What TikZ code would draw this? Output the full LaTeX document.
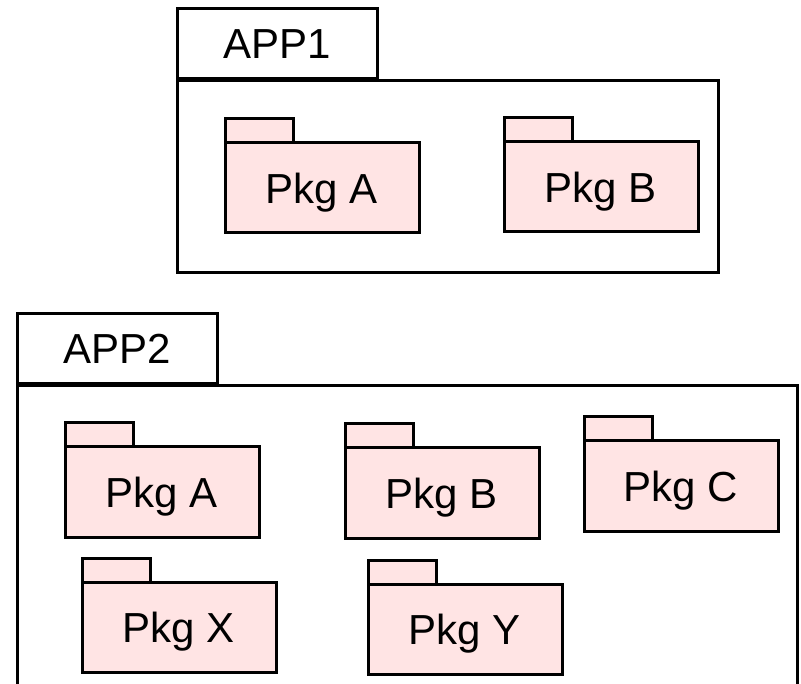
\documentclass[tikz,border=0pt]{standalone}
\usepackage{fontspec}
\setmainfont{Liberation Sans}
\usetikzlibrary{positioning}

\definecolor{pkgpink}{RGB}{255,228,228}

\tikzset{
  appbody/.style={draw, line width=3pt, fill=white, outer sep=0pt, inner sep=0pt, anchor=north west},
  apptab/.style={draw, line width=3pt, fill=white, outer sep=0pt, inner sep=0pt,
    minimum height=70pt, font=\fontsize{42}{50}\selectfont},
  pkgbody/.style={draw, line width=3pt, fill=pkgpink, outer sep=0pt, inner sep=0pt, anchor=north west,
    minimum width=194pt, minimum height=90pt, text depth=0pt, font=\fontsize{42}{50}\selectfont},
  pkgtab/.style={draw, line width=3pt, fill=pkgpink, outer sep=0pt, inner sep=0pt,
    minimum width=68pt, minimum height=24pt},
}

\begin{document}
\begin{tikzpicture}[x=1pt, y=-1pt]
  % page frame, the lower edge of APP2 runs off it
  \clip (0,0) rectangle (801,684);

  % APP1 container
  \node[appbody, minimum width=541pt, minimum height=192pt] (app1) at (177,81) {};
  \node[apptab, minimum width=200pt, above right=2pt and 0pt of app1.north west] (app1tab) {APP1};

  \node[pkgbody] (app1a) at (225,143) {Pkg A};
  \node[pkgtab, above right=0pt and 0pt of app1a.north west] (app1atab) {};
  \node[pkgbody] (app1b) at (504,142) {Pkg B};
  \node[pkgtab, above right=0pt and 0pt of app1b.north west] (app1btab) {};

  % APP2 container
  \node[appbody, minimum width=780pt, minimum height=320pt] (app2) at (17,386) {};
  \node[apptab, minimum width=200pt, above right=2pt and 0pt of app2.north west] (app2tab) {APP2};

  \node[pkgbody] (app2a) at (65,447) {Pkg A};
  \node[pkgtab, above right=0pt and 0pt of app2a.north west] (app2atab) {};
  \node[pkgbody] (app2b) at (345,448) {Pkg B};
  \node[pkgtab, above right=0pt and 0pt of app2b.north west] (app2btab) {};
  \node[pkgbody] (app2c) at (584,441) {Pkg C};
  \node[pkgtab, above right=0pt and 0pt of app2c.north west] (app2ctab) {};
  \node[pkgbody] (app2x) at (82,582) {Pkg X};
  \node[pkgtab, above right=0pt and 0pt of app2x.north west] (app2xtab) {};
  \node[pkgbody] (app2y) at (368,584) {Pkg Y};
  \node[pkgtab, above right=0pt and 0pt of app2y.north west] (app2ytab) {};
\end{tikzpicture}
\end{document}
